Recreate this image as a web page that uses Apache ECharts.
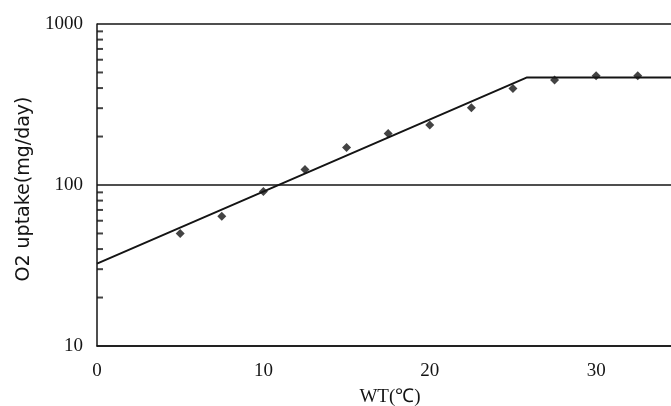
<!DOCTYPE html>
<html>
<head>
<meta charset="utf-8">
<script src="https://cdn.jsdelivr.net/npm/echarts@6/dist/echarts.min.js"></script>
<style>
  html, body { margin: 0; padding: 0; background: #fff; }
  #chart { width: 671px; height: 406px; }
</style>
</head>
<body>
<div id="chart"></div>
<script>
// measured points: water temperature vs O2 uptake
const wt = [5, 7.5, 10, 12.5, 15, 17.5, 20, 22.5, 25, 27.5, 30, 32.5];
const uptake = [50, 64, 91, 125, 171, 209, 236, 302, 398, 449, 477, 477];

// fitted line (rising part then plateau)
const fitX = [0, 25.85, 34.5];
const fitY = [32.5, 466, 466];

// minor tick positions on the log axis
const minorTicks = [20, 30, 40, 50, 60, 70, 80, 90, 200, 300, 400, 500, 600, 700, 800, 900];

const ink = "#141414";

let chart = echarts.init(document.getElementById("chart"));

let option = {
  backgroundColor: "#fff",
  animation: false,
  grid: {
    left: 97,
    right: 0,
    top: 24,
    bottom: 60,
    outerBoundsMode: "none",
  },
  xAxis: {
    type: "value",
    min: 0,
    max: 34.5,
    interval: 10,
    name: "WT(℃)",
    nameLocation: "middle",
    nameGap: 42,
    nameTextStyle: {
      color: ink,
      fontFamily: "Liberation Serif",
      fontSize: 19,
      padding: [0, 0, 0, 12],
    },
    axisLine: { lineStyle: { color: ink, width: 1.5 } },
    axisTick: { show: false },
    splitLine: { show: false },
    axisLabel: {
      color: ink,
      fontFamily: "Liberation Serif",
      fontSize: 19,
      margin: 16,
      showMaxLabel: false,
    },
  },
  yAxis: {
    type: "log",
    logBase: 10,
    min: 10,
    max: 1000,
    name: "O2 uptake(mg/day)",
    nameLocation: "middle",
    nameGap: 63,
    nameTextStyle: {
      color: ink,
      fontFamily: "DejaVu Sans",
      fontSize: 19,
      padding: [0, 8, 0, 0],
    },
    axisLine: { show: true, lineStyle: { color: ink, width: 1.5 } },
    axisTick: { show: false },
    splitLine: { show: true, lineStyle: { color: ink, width: 1.5 } },
    axisLabel: {
      color: ink,
      fontFamily: "Liberation Serif",
      fontSize: 19,
      margin: 14,
      formatter: (v) => String(Math.round(v)),
    },
  },
  series: [
    {
      type: "line",
      data: fitX.map((x, i) => [x, fitY[i]]),
      symbol: "none",
      lineStyle: { color: ink, width: 2 },
      z: 3,
    },
    {
      type: "scatter",
      data: wt.map((x, i) => [x, uptake[i]]),
      symbol: "diamond",
      symbolSize: 9,
      itemStyle: { color: ink },
      z: 4,
    },
    {
      // inward minor ticks on the y axis
      type: "scatter",
      data: minorTicks.map((v) => [0, v]),
      symbol: "rect",
      symbolSize: [6, 2],
      symbolOffset: [3, 0],
      itemStyle: { color: ink },
      clip: false,
      silent: true,
      z: 2,
    },
  ],
};

chart.setOption(option);
</script>
</body>
</html>
